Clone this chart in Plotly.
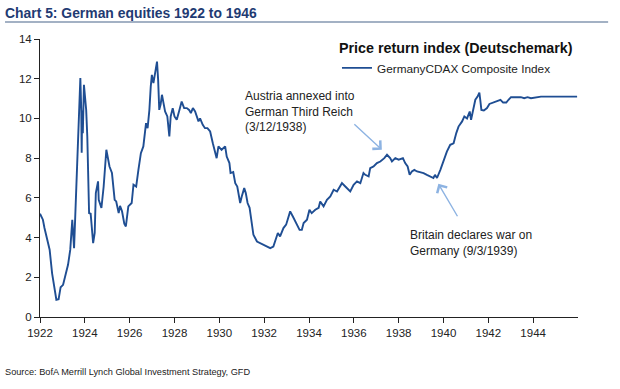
import plotly.graph_objects as go

# ---- data (decimal year, index level) ----
years = [
    1922.00, 1922.13, 1922.20, 1922.28, 1922.43, 1922.54, 1922.66, 1922.73, 1922.83, 1922.92,
    1923.03, 1923.13, 1923.25, 1923.35, 1923.44, 1923.52, 1923.62, 1923.70, 1923.80, 1923.84,
    1923.86, 1923.88, 1923.91, 1923.96, 1924.02, 1924.06, 1924.11, 1924.19, 1924.26, 1924.33,
    1924.37, 1924.44, 1924.49, 1924.59, 1924.62, 1924.74, 1924.84, 1924.96, 1925.04, 1925.10,
    1925.21, 1925.33, 1925.40, 1925.51, 1925.57, 1925.66, 1925.76, 1925.83, 1925.94, 1926.09,
    1926.17, 1926.29, 1926.39, 1926.50, 1926.61, 1926.73, 1926.80, 1926.88, 1926.94, 1926.99,
    1927.06, 1927.14, 1927.22, 1927.27, 1927.32, 1927.38, 1927.44, 1927.51, 1927.58, 1927.68,
    1927.77, 1927.83, 1927.92, 1928.00, 1928.10, 1928.22, 1928.32, 1928.43, 1928.55, 1928.65,
    1928.73, 1928.82, 1928.92, 1929.07, 1929.14, 1929.26, 1929.36, 1929.47, 1929.59, 1929.71,
    1929.81, 1929.88, 1929.96, 1930.10, 1930.26, 1930.33, 1930.45, 1930.50, 1930.62, 1930.71,
    1930.80, 1930.93, 1931.00, 1931.11, 1931.18, 1931.26, 1931.35, 1931.41, 1931.52, 1931.68,
    1931.90, 1932.12, 1932.27, 1932.41, 1932.52, 1932.61, 1932.71, 1932.86, 1932.98, 1933.09,
    1933.16, 1933.28, 1933.43, 1933.58, 1933.68, 1933.76, 1933.91, 1934.02, 1934.12, 1934.28,
    1934.43, 1934.50, 1934.65, 1934.80, 1934.95, 1935.10, 1935.25, 1935.47, 1935.62, 1935.84,
    1935.99, 1936.14, 1936.29, 1936.43, 1936.51, 1936.66, 1936.73, 1936.88, 1937.03, 1937.18,
    1937.36, 1937.48, 1937.62, 1937.70, 1937.85, 1938.00, 1938.19, 1938.29, 1938.40, 1938.49,
    1938.59, 1938.70, 1938.82, 1938.96, 1939.11, 1939.26, 1939.40, 1939.55, 1939.62, 1939.71,
    1939.86, 1940.00, 1940.15, 1940.30, 1940.45, 1940.57, 1940.67, 1940.83, 1940.93, 1941.05,
    1941.17, 1941.23, 1941.35, 1941.42, 1941.52, 1941.60, 1941.64, 1941.69, 1941.80, 1941.94,
    1942.05, 1942.24, 1942.42, 1942.54, 1942.66, 1942.80, 1942.90, 1943.01, 1943.45, 1943.60,
    1943.75, 1943.90, 1944.35, 1945.96,
]
index_values = [
    5.20, 4.90, 4.48, 4.06, 3.39, 2.20, 1.20, 0.87, 0.90, 1.50,
    1.62, 2.05, 2.63, 3.39, 4.90, 3.47, 6.24, 8.42, 12.03, 10.43,
    8.27, 10.40, 9.26, 11.69, 10.77, 10.43, 9.09, 5.23, 5.20, 3.89,
    3.72, 4.23, 6.24, 6.83, 5.90, 5.49, 6.57, 8.42, 7.92, 7.58,
    7.25, 5.90, 5.82, 5.23, 5.60, 5.32, 4.70, 4.56, 5.57, 5.74,
    6.66, 6.57, 7.41, 8.25, 8.59, 9.76, 9.51, 10.43, 11.60, 12.19,
    11.78, 12.30, 12.86, 11.94, 10.43, 10.70, 11.19, 10.77, 10.35, 10.10,
    9.09, 10.10, 10.52, 10.10, 9.93, 10.43, 10.85, 10.52, 10.52, 10.43,
    10.27, 10.52, 10.35, 9.85, 10.00, 9.68, 9.51, 9.51, 9.34, 8.75,
    8.25, 8.00, 8.59, 8.42, 8.59, 8.08, 7.75, 7.25, 7.30, 6.74,
    6.57, 5.74, 6.07, 6.49, 6.24, 5.74, 5.50, 5.06, 4.14, 3.80,
    3.69, 3.55, 3.47, 3.55, 3.89, 4.23, 4.06, 4.48, 4.65, 5.06,
    5.32, 5.06, 4.73, 4.39, 4.39, 4.73, 4.90, 5.40, 5.23, 5.40,
    5.50, 5.82, 5.57, 5.90, 6.07, 6.41, 6.32, 6.74, 6.57, 6.32,
    6.66, 6.83, 6.74, 7.25, 7.16, 7.08, 7.50, 7.58, 7.75, 7.83,
    8.00, 8.17, 8.00, 7.83, 8.00, 7.92, 8.00, 7.75, 7.58, 7.16,
    7.33, 7.41, 7.33, 7.30, 7.25, 7.16, 7.08, 7.00, 7.16, 7.00,
    7.41, 7.83, 8.33, 8.67, 8.75, 9.26, 9.59, 9.85, 10.10, 10.00,
    10.35, 9.93, 10.60, 10.94, 11.10, 11.30, 10.94, 10.43, 10.40, 10.52,
    10.73, 10.80, 10.90, 10.94, 10.80, 10.80, 10.94, 11.07, 11.07, 11.02,
    11.07, 11.02, 11.10, 11.10,
]

x_ticks = list(range(1922, 1946, 2))
y_ticks = list(range(0, 16, 2))

series_name = "GermanyCDAX Composite Index"
legend_title = "Price return index (Deutschemark)"
chart_title = "Chart 5: German equities 1922 to 1946"
source_text = "Source: BofA Merrill Lynch Global Investment Strategy, GFD"
note_austria = "Austria annexed into<br>German Third Reich<br>(3/12/1938)"
note_britain = "Britain declares war on<br>Germany (9/3/1939)"

FONT = "Liberation Sans, Arial, sans-serif"
LINE_COLOR = "#1F4E93"
ARROW_COLOR = "#8DB3E2"
TEXT_COLOR = "#222222"

fig = go.Figure()
fig.add_trace(go.Scatter(
    x=years, y=index_values, mode="lines", name=series_name,
    line=dict(color=LINE_COLOR, width=1.9),
))

fig.update_layout(
    width=620, height=389,
    margin=dict(l=40, r=42, t=39, b=72),
    paper_bgcolor="white", plot_bgcolor="white",
    font=dict(family=FONT, size=12, color=TEXT_COLOR),
    showlegend=True,
    legend=dict(
        x=0.552, y=1.015, xanchor="left", yanchor="top",
        bgcolor="rgba(0,0,0,0)",
        title=dict(text="<b>" + legend_title + "</b>",
                   font=dict(family=FONT, size=14.3, color="#111111"), side="top"),
        font=dict(family=FONT, size=11.8, color=TEXT_COLOR),
        itemwidth=30,
    ),
    xaxis=dict(
        range=[1922, 1946], tickvals=x_ticks, ticktext=[str(v) for v in x_ticks],
        showgrid=False, zeroline=False, showline=True, linecolor=TEXT_COLOR, linewidth=1,
        ticks="outside", ticklen=5, tickcolor=TEXT_COLOR,
        tickfont=dict(family=FONT, size=11.5, color=TEXT_COLOR),
    ),
    yaxis=dict(
        range=[0, 14], tickvals=y_ticks,
        showgrid=False, zeroline=False, showline=True, linecolor=TEXT_COLOR, linewidth=1,
        ticks="outside", ticklen=5, tickcolor=TEXT_COLOR,
        tickfont=dict(family=FONT, size=11.5, color=TEXT_COLOR),
    ),
)

# title
fig.add_annotation(
    text="<b>" + chart_title + "</b>", xref="paper", yref="paper",
    x=-0.068, y=1.094, xanchor="left", yanchor="middle", showarrow=False,
    font=dict(family=FONT, size=13.9, color="#1F3B73"),
)
# title underline
fig.add_shape(type="line", xref="paper", yref="paper",
              x0=-0.065, x1=1.056, y0=1.061, y1=1.061,
              line=dict(color="#8497B0", width=1.5))

# source
fig.add_annotation(
    text=source_text, xref="paper", yref="paper",
    x=-0.068, y=-0.197, xanchor="left", yanchor="middle", showarrow=False,
    font=dict(family=FONT, size=9.2, color=TEXT_COLOR),
)

# event notes
fig.add_annotation(
    text=note_austria, x=1931.06, y=10.33, xanchor="left", yanchor="middle",
    align="left", showarrow=False, font=dict(family=FONT, size=12, color=TEXT_COLOR),
)
fig.add_annotation(
    text="", x=1937.25, y=8.42, ax=-29, ay=-27, showarrow=True,
    arrowhead=4, arrowsize=1.6, arrowwidth=1.4, arrowcolor=ARROW_COLOR,
)
fig.add_annotation(
    text=note_britain, x=1938.43, y=3.71, xanchor="left", yanchor="middle",
    align="left", showarrow=False, font=dict(family=FONT, size=12, color=TEXT_COLOR),
)
fig.add_annotation(
    text="", x=1939.77, y=6.71, ax=20, ay=34, showarrow=True,
    arrowhead=4, arrowsize=1.6, arrowwidth=1.4, arrowcolor=ARROW_COLOR,
)

# remove the default page margin so the figure sits at the window's corner
fig.write_html("out.html", config={"displayModeBar": False},
               post_script="document.body.style.margin='0';")
